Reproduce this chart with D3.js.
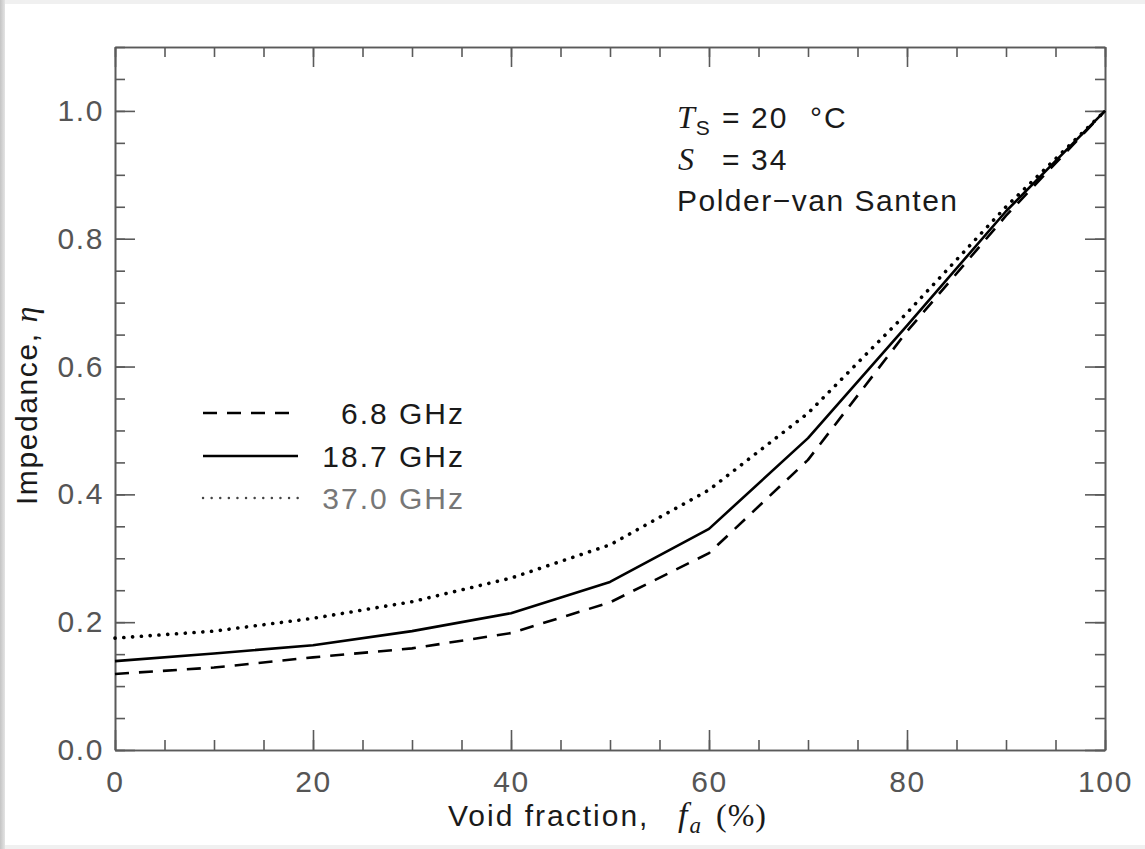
<!DOCTYPE html>
<html><head><meta charset="utf-8">
<script src="https://cdn.jsdelivr.net/npm/d3@7"></script>
<style>
html,body{margin:0;padding:0;background:#ececec;}
svg{display:block;}
</style></head>
<body>
<svg id="c" width="1145" height="849"></svg>
<script>
const voidFraction = [0,10,20,30,40,50,60,70,80,90,100];
const eta68  = [0.119,0.129,0.145,0.159,0.183,0.231,0.308,0.454,0.655,0.836,1.0];
const eta187 = [0.139,0.151,0.164,0.186,0.214,0.263,0.346,0.488,0.664,0.843,1.0];
const eta370 = [0.175,0.186,0.206,0.232,0.269,0.321,0.407,0.527,0.684,0.850,1.0];
const seriesLabels = ["6.8 GHz","18.7 GHz","37.0 GHz"];
const xMajor = [0,20,40,60,80,100];
const xMinor = d3.range(0,101,5);
const yMajor = [0.0,0.2,0.4,0.6,0.8,1.0];
const yMinor = d3.range(0,1.1001,0.05);

const svg = d3.select("#c");
const FONT = "'Liberation Sans', Arial, sans-serif";
const SERIF = "'Liberation Serif', 'DejaVu Serif', serif";
const FS = 30;

// page panel
const grad = svg.append("defs").append("linearGradient").attr("id","lg").attr("x1","0").attr("x2","1");
grad.append("stop").attr("offset","0").attr("stop-color","#c4c4c4");
grad.append("stop").attr("offset","1").attr("stop-color","#e4e4e4");
svg.append("rect").attr("x",0).attr("y",0).attr("width",1145).attr("height",849).attr("fill","#f0f0f0");
svg.append("rect").attr("x",0).attr("y",0).attr("width",5).attr("height",849).attr("fill","url(#lg)");
svg.append("rect").attr("x",5).attr("y",4).attr("width",1140).attr("height",841).attr("fill","#ffffff");

const L=115, R=1105, T=47, B=750;
const x = d3.scaleLinear().domain([0,100]).range([L,R]);
const y = d3.scaleLinear().domain([0,1.1]).range([B,T]);

const axisColor = "#5a5a5a";
function styleAxis(g){
  g.selectAll("path.domain").attr("stroke",axisColor).attr("stroke-width",1.6);
  g.selectAll(".tick line").attr("stroke",axisColor).attr("stroke-width",1.6);
  g.selectAll("text").attr("fill","#555").attr("font-family",FONT).attr("font-size",FS).attr("letter-spacing","1.6px");
}
// bottom
const gb = svg.append("g").attr("transform",`translate(0,${B})`)
  .call(d3.axisBottom(x).tickValues(xMinor).tickSize(-10).tickSizeOuter(0).tickFormat(""));
styleAxis(gb);
const gb2 = svg.append("g").attr("transform",`translate(0,${B})`)
  .call(d3.axisBottom(x).tickValues(xMajor).tickSize(-20).tickSizeOuter(0).tickPadding(21).tickFormat(d3.format("d")));
styleAxis(gb2);
// top
const gt = svg.append("g").attr("transform",`translate(0,${T})`)
  .call(d3.axisTop(x).tickValues(xMinor).tickSize(-10).tickSizeOuter(0).tickFormat(""));
styleAxis(gt);
const gt2 = svg.append("g").attr("transform",`translate(0,${T})`)
  .call(d3.axisTop(x).tickValues(xMajor).tickSize(-20).tickSizeOuter(0).tickFormat(""));
styleAxis(gt2);
// left
const gl = svg.append("g").attr("transform",`translate(${L},0)`)
  .call(d3.axisLeft(y).tickValues(yMinor).tickSize(-10).tickSizeOuter(0).tickFormat(""));
styleAxis(gl);
const gl2 = svg.append("g").attr("transform",`translate(${L},0)`)
  .call(d3.axisLeft(y).tickValues(yMajor).tickSize(-20).tickSizeOuter(0).tickPadding(11).tickFormat(d3.format(".1f")));
styleAxis(gl2);
// right
const gr = svg.append("g").attr("transform",`translate(${R},0)`)
  .call(d3.axisRight(y).tickValues(yMinor).tickSize(-10).tickSizeOuter(0).tickFormat(""));
styleAxis(gr);
const gr2 = svg.append("g").attr("transform",`translate(${R},0)`)
  .call(d3.axisRight(y).tickValues(yMajor).tickSize(-20).tickSizeOuter(0).tickFormat(""));
styleAxis(gr2);

// curves
const line = d3.line().x((d,i)=>x(voidFraction[i])).y(d=>y(d));
const styles = [
  {data:eta68, dash:"14,10", cap:"butt", w:2.6},
  {data:eta187, dash:null, cap:"butt", w:2.6},
  {data:eta370, dash:"0.1,8.7", cap:"round", w:3.6}
];
styles.forEach(s=>{
  svg.append("path").attr("d",line(s.data)).attr("fill","none").attr("stroke","#000")
    .attr("stroke-width",s.w).attr("stroke-linecap",s.cap).attr("stroke-linejoin","round")
    .attr("stroke-dasharray",s.dash);
});

// legend
const legY = [413,456,498];
const legColor = ["#1a1a1a","#1a1a1a","#777"];
styles.forEach((s,i)=>{
  svg.append("line").attr("x1",203).attr("x2",298).attr("y1",legY[i]).attr("y2",legY[i])
    .attr("stroke", i==2 ? "#444" : "#000").attr("stroke-width", i==2?2.4:s.w)
    .attr("stroke-linecap",s.cap).attr("stroke-dasharray", i==2 ? "0.1,8.5" : s.dash);
  svg.append("text").attr("x",465).attr("y",legY[i]+11).attr("text-anchor","end")
    .attr("font-family",FONT).attr("font-size",FS).attr("letter-spacing","2px")
    .attr("fill",legColor[i]).text(seriesLabels[i]);
});

// annotation
const ann = svg.append("g").attr("font-family",FONT).attr("font-size",FS).attr("fill","#1a1a1a");
const t1 = ann.append("text").attr("y",128).attr("letter-spacing","2px");
t1.append("tspan").attr("x",677).attr("font-family",SERIF).attr("font-style","italic").attr("font-size",32).attr("letter-spacing","0px").text("T");
t1.append("tspan").attr("font-size",21).attr("dy",7).attr("dx",1).text("S");
t1.append("tspan").attr("x",722).attr("dy",-7).text("=");
t1.append("tspan").attr("x",751).text("20");
t1.append("tspan").attr("x",810).text("°C");
const t2 = ann.append("text").attr("y",170).attr("letter-spacing","2px");
t2.append("tspan").attr("x",678).attr("font-family",SERIF).attr("font-style","italic").attr("font-size",32).attr("letter-spacing","0px").text("S");
t2.append("tspan").attr("x",722).text("=");
t2.append("tspan").attr("x",751).text("34");
ann.append("text").attr("x",677).attr("y",211).attr("letter-spacing","1.5px").text("Polder\u2212van Santen");

// x axis title
const xt = svg.append("text").attr("x",448).attr("y",826).attr("font-family",FONT).attr("font-size",FS)
  .attr("fill","#1a1a1a").attr("letter-spacing","2px");
xt.append("tspan").text("Void fraction,");
xt.append("tspan").attr("x",678).attr("font-family",SERIF).attr("font-style","italic").attr("font-size",34).attr("letter-spacing","0px").text("f");
xt.append("tspan").attr("font-family",SERIF).attr("font-style","italic").attr("font-size",23).attr("dy",7).attr("dx",2).attr("letter-spacing","0px").text("a");
xt.append("tspan").attr("x",716).attr("dy",-7).attr("font-family",SERIF).attr("font-size",32).attr("letter-spacing","1px").text("(%)");

// y axis title
const yt = svg.append("text").attr("transform","translate(37,405) rotate(-90)").attr("text-anchor","middle")
  .attr("font-family",FONT).attr("font-size",FS).attr("fill","#1a1a1a").attr("letter-spacing","1.6px");
yt.append("tspan").text("Impedance, ");
yt.append("tspan").attr("font-family",SERIF).attr("font-style","italic").attr("font-size",32).text("\u03B7");
</script>
</body></html>
